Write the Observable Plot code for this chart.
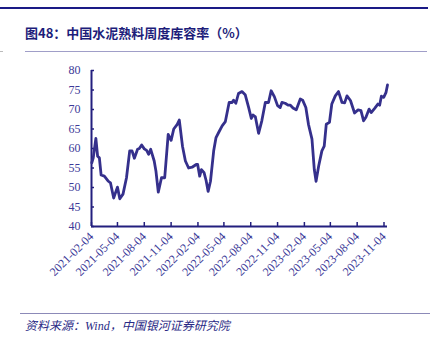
<!DOCTYPE html>
<html><head><meta charset="utf-8">
<script src="https://cdn.jsdelivr.net/npm/d3@7"></script>
<script src="https://cdn.jsdelivr.net/npm/@observablehq/plot@0.6"></script>
<style>
html,body{margin:0;padding:0;background:#fff;width:434px;height:353px;overflow:hidden;}
#wrap{position:relative;width:434px;height:353px;}
.abs{position:absolute;}
#chart{position:absolute;left:0;top:0;}
#chart text{font-family:'Liberation Serif',serif !important;}
</style></head>
<body><div id="wrap">
<div class="abs" style="left:0;top:7px;width:428px;height:2px;background:#1a1a86"></div>
<div class="abs" style="left:25px;top:23px;font-family:'Noto Sans CJK SC';font-weight:bold;font-size:13px;color:#1d1d7a;white-space:nowrap;">图48：中国水泥熟料周度库容率（%）</div>
<div class="abs" style="left:25px;top:51px;width:402px;height:1px;background:#a09ec8"></div>
<div class="abs" style="left:0;top:51px;width:3px;height:1px;background:#bbb"></div>
<div id="chart"></div>
<div class="abs" style="left:20px;top:313px;width:410px;height:1px;background:#8c8ab8"></div>
<div class="abs" style="left:25px;top:316px;font-family:'Noto Sans CJK SC';font-style:italic;font-size:12px;color:#2a2a85;white-space:nowrap;">资料来源：<span style="font-family:'Liberation Serif'">Wind</span>，中国银河证券研究院</div>
</div>
<script>
const dates = ["2021-02-05","2021-02-10","2021-02-19","2021-02-25","2021-03-03","2021-03-09","2021-03-20","2021-04-03","2021-04-10","2021-04-21","2021-05-04","2021-05-12","2021-05-23","2021-06-04","2021-06-15","2021-06-23","2021-07-01","2021-07-12","2021-07-18","2021-07-26","2021-08-04","2021-08-12","2021-08-19","2021-08-26","2021-09-07","2021-09-13","2021-09-21","2021-10-02","2021-10-13","2021-10-25","2021-11-04","2021-11-13","2021-11-25","2021-12-02","2021-12-13","2021-12-23","2022-01-03","2022-01-15","2022-01-29","2022-02-03","2022-02-10","2022-02-16","2022-02-25","2022-03-04","2022-03-11","2022-03-19","2022-03-30","2022-04-07","2022-04-16","2022-04-28","2022-05-09","2022-05-22","2022-06-01","2022-06-06","2022-06-14","2022-06-23","2022-07-05","2022-07-16","2022-07-28","2022-08-06","2022-08-12","2022-08-20","2022-08-31","2022-09-11","2022-09-23","2022-10-04","2022-10-13","2022-10-24","2022-11-04","2022-11-13","2022-11-19","2022-11-30","2022-12-10","2022-12-18","2022-12-27","2023-01-07","2023-01-21","2023-01-29","2023-02-09","2023-02-18","2023-03-02","2023-03-10","2023-03-16","2023-03-25","2023-04-05","2023-04-13","2023-04-20","2023-05-01","2023-05-09","2023-05-21","2023-06-01","2023-06-13","2023-06-22","2023-06-30","2023-07-12","2023-07-26","2023-08-07","2023-08-17","2023-08-26","2023-09-03","2023-09-14","2023-09-21","2023-10-03","2023-10-14","2023-10-20","2023-10-26","2023-11-03","2023-11-11","2023-11-16"];
const values = [56.3,57.6,62.6,58.0,57.6,53.2,52.9,51.6,51.2,47.3,50.1,47.1,48.3,52.5,59.4,59.4,57.5,59.8,60.0,60.9,59.9,59.5,58.5,59.8,56.8,54.2,48.8,52.5,52.5,63.6,62.1,65.0,66.2,67.3,60.6,56.8,55.0,55.2,55.9,55.9,52.9,54.6,53.8,51.8,49.0,51.6,59.4,62.8,64.1,65.8,66.9,71.8,71.8,72.4,71.6,74.1,74.6,73.8,70.5,67.7,68.6,68.1,63.9,67.1,71.8,71.8,74.8,73.3,71.0,70.5,71.8,71.6,71.1,71.1,70.4,69.9,72.7,72.4,70.5,66.2,62.4,54.6,51.6,55.5,59.4,60.6,66.2,66.7,71.4,73.5,74.6,71.8,71.7,73.5,72.3,69.1,69.9,69.7,67.1,68.0,70.1,69.2,70.3,71.4,71.1,73.4,73.1,74.4,76.3];
const xTickLabels = ["2021-02-04","2021-05-04","2021-08-04","2021-11-04","2022-02-04","2022-05-04","2022-08-04","2022-11-04","2023-02-04","2023-05-04","2023-08-04","2023-11-04"];
const yTicks = [40,45,50,55,60,65,70,75,80];

const parse = d3.utcParse("%Y-%m-%d");
const data = dates.map((d,i)=>({date: parse(d), value: values[i]}));
const xTicks = xTickLabels.map(parse);
const navy = "#231f7e";
const labelColor = "#3c3a98";
const fmt = d3.utcFormat("%Y-%m-%d");

const chart = Plot.plot({
  width: 434,
  height: 310,
  marginLeft: 91,
  marginRight: 47,
  marginTop: 70,
  marginBottom: 84,
  style: {background: "transparent", overflow: "visible"},
  x: {type: "utc", domain: [parse("2021-02-04"), parse("2023-11-16")]},
  y: {domain: [40, 80]},
  marks: [
    Plot.axisY({ticks: yTicks, tickSize: 3, dx: 3, tickFormat: () => "", stroke: navy, strokeWidth: 1.5, label: null}),
    Plot.axisY({ticks: yTicks, tickSize: 0, tickPadding: 11, fill: labelColor, label: null, fontSize: 12}),
    Plot.axisX({ticks: xTicks, tickSize: 4, dy: -4, tickFormat: () => "", stroke: navy, strokeWidth: 1.5, label: null}),
    Plot.axisX({ticks: xTicks, tickSize: 0, tickPadding: 8, tickRotate: -45, tickFormat: fmt, fill: labelColor, label: null, fontSize: 12}),
    Plot.ruleX([parse("2021-02-04")], {y1: 40, y2: 80, stroke: navy, strokeWidth: 2}),
    Plot.ruleY([40], {stroke: navy, strokeWidth: 2}),
    Plot.line(data, {x: "date", y: "value", stroke: "#35308c", strokeWidth: 2.8, curve: "linear", strokeLinejoin: "round"})
  ]
});
document.getElementById("chart").appendChild(chart);
</script>
</body></html>
